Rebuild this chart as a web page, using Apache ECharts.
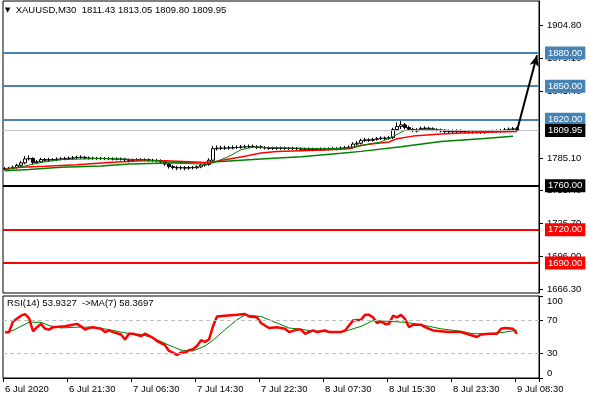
<!DOCTYPE html>
<html>
<head>
<meta charset="utf-8">
<script src="https://cdn.jsdelivr.net/npm/echarts@6/dist/echarts.min.js"></script>
<style>
  html, body { margin: 0; padding: 0; background: #fff; }
  #chart { width: 590px; height: 400px; }
</style>
</head>
<body>
<div id="chart"></div>
<script>
// XAUUSD M30 bars
var opens = [1775.0,1775.5,1775.8,1776.6,1778.4,1780.6,1784.2,1784.6,1781.0,1781.6,
  1783.6,1783.0,1783.6,1783.4,1784.0,1784.2,1784.6,1784.8,1785.2,1785.5,
  1785.7,1785.0,1784.8,1784.6,1784.7,1784.5,1784.4,1784.3,1784.0,1784.1,
  1784.0,1783.5,1782.9,1783.3,1783.5,1783.2,1783.4,1783.0,1782.8,1782.5,
  1781.5,1779.5,1777.2,1776.5,1776.0,1776.3,1775.8,1776.4,1776.2,1777.0,
  1778.6,1779.2,1783.0,1793.4,1794.0,1793.8,1794.2,1794.0,1794.5,1794.6,
  1795.0,1795.2,1795.3,1794.4,1795.1,1794.5,1794.0,1793.6,1793.8,1793.7,
  1793.8,1793.7,1793.5,1793.8,1793.4,1793.0,1792.8,1793.2,1792.6,1792.9,
  1793.2,1793.0,1793.3,1793.6,1793.4,1794.0,1794.4,1794.8,1797.6,1798.4,
  1800.8,1801.5,1801.0,1801.8,1802.5,1803.0,1802.8,1803.4,1810.8,1813.5,
  1815.0,1812.5,1811.0,1809.4,1810.6,1811.8,1812.0,1811.5,1810.5,1810.3,
  1809.5,1809.0,1808.8,1808.8,1809.7,1809.0,1808.5,1808.2,1808.3,1808.5,
  1808.0,1808.8,1809.0,1809.3,1809.4,1809.6,1810.5,1811.0,1811.43];
var closes = [1775.5,1775.8,1776.6,1778.4,1780.6,1784.2,1784.6,1781.0,1781.6,1783.6,
  1783.0,1783.6,1783.4,1784.0,1784.2,1784.6,1784.8,1785.2,1785.5,1785.7,
  1785.0,1784.8,1784.6,1784.7,1784.5,1784.4,1784.3,1784.0,1784.1,1784.0,
  1783.5,1782.9,1783.3,1783.5,1783.2,1783.4,1783.0,1782.8,1782.5,1781.5,
  1779.5,1777.2,1776.5,1776.0,1776.3,1775.8,1776.4,1776.2,1777.0,1778.6,
  1779.2,1783.0,1793.4,1794.0,1793.8,1794.2,1794.0,1794.5,1794.6,1795.0,
  1795.2,1795.3,1795.5,1795.1,1794.5,1794.0,1793.6,1793.8,1793.7,1793.8,
  1793.7,1793.5,1793.8,1793.4,1793.0,1792.8,1793.2,1792.6,1792.9,1793.2,
  1793.0,1793.3,1793.6,1793.4,1794.0,1794.4,1794.8,1797.6,1798.4,1800.8,
  1801.5,1801.0,1801.8,1802.5,1803.0,1802.8,1803.4,1810.8,1813.5,1815.0,
  1812.5,1811.0,1810.0,1810.6,1811.8,1812.0,1811.5,1810.5,1810.3,1809.5,
  1809.0,1808.8,1809.5,1809.7,1809.0,1808.5,1808.2,1808.3,1808.5,1808.2,
  1808.8,1809.0,1809.3,1809.4,1809.6,1810.5,1811.0,1811.43,1809.95];
var highs = [1776.8,1777.0,1778.0,1779.8,1782.4,1786.8,1787.4,1785.6,1783.2,1785.2,
  1785.0,1785.2,1784.8,1785.6,1785.8,1786.0,1786.4,1786.8,1787.0,1787.4,
  1786.8,1786.4,1786.2,1786.0,1786.0,1785.8,1785.8,1785.6,1785.5,1785.4,
  1785.2,1784.4,1784.6,1784.8,1784.8,1784.7,1784.6,1784.3,1784.2,1783.8,
  1782.8,1780.8,1778.8,1778.0,1777.8,1777.6,1777.8,1777.8,1778.4,1780.0,
  1780.8,1784.8,1795.8,1796.4,1796.2,1796.2,1796.0,1796.4,1796.4,1796.8,
  1797.0,1797.2,1797.2,1796.6,1796.4,1795.8,1795.4,1795.2,1795.2,1795.4,
  1795.2,1795.0,1795.2,1795.0,1794.6,1794.4,1794.6,1794.4,1794.2,1794.6,
  1794.4,1794.6,1795.0,1794.8,1795.4,1795.8,1796.4,1799.4,1800.2,1802.4,
  1803.2,1802.8,1803.4,1804.0,1804.6,1804.4,1804.8,1812.4,1817.2,1818.6,
  1816.6,1814.2,1812.4,1812.0,1813.4,1813.6,1813.2,1812.8,1812.0,1811.6,
  1811.0,1810.6,1810.8,1811.0,1810.8,1810.4,1809.8,1809.8,1810.0,1809.8,
  1810.2,1810.4,1810.6,1810.8,1811.2,1812.2,1812.6,1813.0,1813.05];
var lows = [1773.8,1774.2,1774.6,1775.4,1777.2,1779.4,1782.8,1779.0,1779.4,1780.4,
  1781.6,1781.8,1782.0,1782.2,1782.8,1783.0,1783.4,1783.6,1784.0,1784.2,
  1783.8,1783.6,1783.4,1783.4,1783.2,1783.1,1783.0,1782.8,1782.8,1782.7,
  1782.2,1781.0,1781.7,1782.1,1782.0,1782.0,1781.6,1781.4,1781.0,1780.0,
  1778.0,1775.4,1774.6,1774.0,1774.4,1773.8,1774.4,1774.6,1775.0,1775.8,
  1777.2,1778.0,1781.8,1791.8,1792.2,1792.4,1792.6,1792.8,1793.2,1793.4,
  1793.8,1794.0,1794.0,1793.2,1793.2,1792.8,1792.4,1792.4,1792.4,1792.4,
  1792.4,1792.2,1792.2,1792.0,1791.6,1791.4,1791.6,1791.2,1791.4,1791.7,
  1791.6,1791.8,1792.1,1792.0,1792.2,1792.8,1793.2,1793.6,1796.2,1797.2,
  1799.4,1799.6,1799.8,1800.6,1801.2,1801.4,1801.6,1802.2,1809.2,1811.2,
  1810.8,1809.4,1808.4,1808.2,1809.4,1810.4,1810.2,1809.2,1809.0,1808.2,
  1807.6,1807.4,1807.6,1807.6,1807.8,1807.2,1806.8,1807.0,1807.2,1806.8,
  1807.0,1807.6,1807.8,1808.0,1808.2,1808.4,1809.2,1809.8,1809.80];

// moving averages as [bar, price]
var maFast = [[0,1774.5],[4,1777.0],[9,1781.0],[14,1783.5],[24,1784.6],[30,1784.0],[38,1782.6],
  [44,1780.2],[50,1779.4],[52,1780.5],[56,1786.5],[59,1792.5],[62,1794.8],[70,1794.2],[80,1793.3],
  [86,1794.0],[90,1797.0],[94,1799.5],[97,1804.5],[100,1810.0],[106,1811.0],[112,1809.8],
  [120,1809.0],[128,1809.6]];
var maMid = [[0,1775.0],[4,1776.6],[10,1777.6],[18,1779.0],[26,1781.0],[34,1782.6],[40,1782.5],
  [46,1781.5],[50,1780.8],[52,1781.5],[56,1784.0],[60,1786.5],[64,1789.5],[68,1790.8],[74,1791.6],
  [80,1792.2],[86,1793.4],[89,1796.3],[91,1797.5],[96,1799.5],[98,1802.5],[102,1804.8],
  [108,1806.6],[114,1807.6],[120,1808.4],[128,1809.0]];
var maSlow = [[0,1773.5],[6,1774.7],[14,1776.6],[24,1777.7],[31,1779.5],[44,1780.7],[51,1781.2],
  [57,1782.6],[65,1784.4],[74,1786.2],[84,1789.2],[89,1791.0],[99,1795.2],[109,1800.0],
  [119,1802.5],[127,1804.6]];

// RSI(14) and its MA(7) as [bar, value]
var rsi = [[0,55.8],[1,55.8],[2,69],[4,76],[5,78],[6,73],[7,57],[8,62],[9,66],[10,60],[11,59],
  [12,62],[15,63],[16,64],[18,66],[19,63],[20,59],[21,61],[22,62],[24,60],[25,56],[26,58],[27,56],
  [29,53],[30,47],[31,54],[32,54],[34,51],[35,54],[37,49],[38,45],[40,40],[41,33],[42,31],[43,28],
  [44,31],[45,31],[46,34],[47,35],[48,39],[49,46],[50,44],[51,47],[52,63],[53,75],[55,76],[58,77],
  [60,78],[61,75],[63,74],[64,67],[66,61],[68,62],[70,60],[71,56],[73,59],[74,59],[75,54],[77,58],
  [78,56],[80,58],[81,56],[84,56],[85,58],[87,70],[89,71],[90,77],[91,77],[92,74],[93,67],[94,69],
  [95,66],[96,66],[97,76],[98,74],[99,77],[100,72],[101,62],[102,65],[104,65],[105,62],[107,58],
  [109,57],[111,56],[114,56],[116,53],[118,50],[119,53],[121,54],[123,54],[124,60],[125,61],
  [127,60],[128,53.93]];
var rsiMa = [[0,55.8],[2,58],[4,63],[6,68],[9,68],[11,64],[14,61],[18,62],[22,62],[26,59],[30,55],
  [34,53],[37,49],[41,40],[44,34],[47,33],[50,39],[52,46],[55,59],[58,71],[60,77],[64,75],[68,67],
  [71,61],[73,60],[76,58],[81,56],[85,57],[89,63],[92,70],[96,69],[100,68],[104,65],[109,60],
  [114,57],[117,54],[121,54],[125,56],[128,58.37]];

var tickBars = [0, 16, 32, 48, 64, 80, 96, 112, 128];
var tickLabels = ['6 Jul 2020', '6 Jul 21:30', '7 Jul 06:30', '7 Jul 14:30', '7 Jul 22:30',
  '8 Jul 07:30', '8 Jul 15:30', '8 Jul 23:30', '9 Jul 08:30'];
var priceTicks = [1666.3, 1696.0, 1725.7, 1755.4, 1785.1, 1845.4, 1875.1, 1904.8];
var rsiTicks = [0, 30, 70, 100];
var rsiLevels = [70, 30];
var levelPrices = [1880, 1850, 1820, 1760, 1720, 1690];
var levelColors = ['#4682b4', '#4682b4', '#4682b4', '#000000', '#ff0000', '#ff0000'];
var arrowTarget = 1878;
var rsiLast = 53.9327, rsiMaLast = 58.3697;

var slotCount = 134; // bars plus the empty shift on the right
var slots = [];
for (var s = 0; s < slotCount; s++) slots.push(s);

var last = opens.length - 1;
var bid = closes[last];
var candles = opens.map(function (o, i) { return [o, closes[i], lows[i], highs[i]]; });

var font = 'Liberation Sans';
var txt = { color: '#000', fontSize: 9.5, fontFamily: font };

var levelLines = levelPrices.map(function (p, i) {
  return { yAxis: p, lineStyle: { color: levelColors[i], width: 2, type: 'solid' },
    label: { backgroundColor: levelColors[i] } };
});
levelLines.push({ yAxis: bid, lineStyle: { color: '#c0c0c0', width: 1, type: 'solid' },
  label: { backgroundColor: '#000' } });
levelLines.push([
  { coord: [last, bid], symbol: 'none' },
  { coord: [slotCount - 1, arrowTarget], symbol: 'arrow', symbolSize: [7, 11],
    lineStyle: { color: '#000', width: 2, type: 'solid' }, label: { show: false } }
]);

var chart = echarts.init(document.getElementById('chart'));
var option = {
  animation: false,
  backgroundColor: '#fff',
  title: [
    { text: '{a|▼}  XAUUSD,M30  ' + [opens[last], highs[last], lows[last], bid].map(function (v) { return v.toFixed(2); }).join(' '),
      left: 5, top: 5, padding: 0,
      textStyle: { color: '#000', fontSize: 9.5, fontWeight: 'normal', fontFamily: font,
        rich: { a: { fontSize: 7, fontFamily: 'DejaVu Sans', color: '#000' } } } },
    { text: 'RSI(14) ' + rsiLast.toFixed(4) + '  ->MA(7) ' + rsiMaLast.toFixed(4),
      left: 7, top: 298, padding: 0,
      textStyle: { color: '#000', fontSize: 9.5, fontWeight: 'normal', fontFamily: font } }
  ],
  grid: [
    { left: 3, top: 1, width: 536, height: 292, show: true, borderColor: '#000', borderWidth: 1,
      containLabel: false, outerBoundsMode: 'none' },
    { left: 3, top: 296, width: 536, height: 82, show: true, borderColor: '#000', borderWidth: 1,
      containLabel: false, outerBoundsMode: 'none' }
  ],
  xAxis: [
    { gridIndex: 0, type: 'category', data: slots, boundaryGap: true, show: false },
    { gridIndex: 1, type: 'category', data: slots, boundaryGap: true,
      axisLine: { show: true, lineStyle: { color: '#000' } },
      axisTick: { show: true, length: 4, lineStyle: { color: '#000' },
        interval: function (i) { return tickBars.indexOf(i) >= 0; } },
      axisLabel: Object.assign({ margin: 6, align: 'left',
        interval: function (i) { return tickBars.indexOf(i) >= 0; },
        formatter: function (v, i) { return tickLabels[tickBars.indexOf(i)] || ''; } }, txt),
      splitLine: { show: false } }
  ],
  yAxis: [
    { gridIndex: 0, type: 'value', position: 'right', min: 1662.86, max: 1927.05, scale: true,
      splitLine: { show: false },
      axisLine: { show: true, lineStyle: { color: '#000' } },
      axisTick: { show: true, length: 4, customValues: priceTicks, lineStyle: { color: '#000' } },
      axisLabel: Object.assign({ margin: 8, customValues: priceTicks,
        formatter: function (v) { return v.toFixed(2); } }, txt) },
    { gridIndex: 1, type: 'value', position: 'right', min: 0, max: 100,
      splitLine: { show: false },
      axisLine: { show: true, lineStyle: { color: '#000' } },
      axisTick: { show: true, length: 4, customValues: rsiTicks, lineStyle: { color: '#000' } },
      axisLabel: Object.assign({ margin: 8, customValues: rsiTicks,
        verticalAlignMinLabel: 'bottom', verticalAlignMaxLabel: 'top' }, txt) }
  ],
  series: [
    { type: 'line', xAxisIndex: 0, yAxisIndex: 0, data: maSlow, symbol: 'none', silent: true,
      lineStyle: { color: '#008000', width: 1.5 } },
    { type: 'line', xAxisIndex: 0, yAxisIndex: 0, data: maMid, symbol: 'none', silent: true,
      lineStyle: { color: '#ff0000', width: 1.5 } },
    { type: 'line', xAxisIndex: 0, yAxisIndex: 0, data: maFast, symbol: 'none', silent: true,
      lineStyle: { color: '#008000', width: 1 } },
    { type: 'candlestick', xAxisIndex: 0, yAxisIndex: 0, data: candles, barWidth: 3, silent: true,
      itemStyle: { color: '#fff', color0: '#000', borderColor: '#000', borderColor0: '#000', borderWidth: 1 },
      markLine: { silent: true, symbol: ['none', 'none'], animation: false,
        label: { show: true, position: 'end', distance: 6, color: '#fff', fontSize: 9.5, fontFamily: font,
          padding: [2, 3, 1, 3], formatter: function (p) { return p.value.toFixed(2); } },
        data: levelLines } },
    { type: 'line', xAxisIndex: 1, yAxisIndex: 1, data: rsiMa, symbol: 'none', silent: true,
      lineStyle: { color: '#008000', width: 1 },
      markLine: { silent: true, symbol: ['none', 'none'], label: { show: false },
        lineStyle: { color: '#c0c0c0', width: 1, type: [4, 3] },
        data: rsiLevels.map(function (v) { return { yAxis: v }; }) } },
    { type: 'line', xAxisIndex: 1, yAxisIndex: 1, data: rsi, symbol: 'none', silent: true,
      lineStyle: { color: '#ff0000', width: 2.5 } }
  ]
};
chart.setOption(option);
</script>
</body>
</html>
